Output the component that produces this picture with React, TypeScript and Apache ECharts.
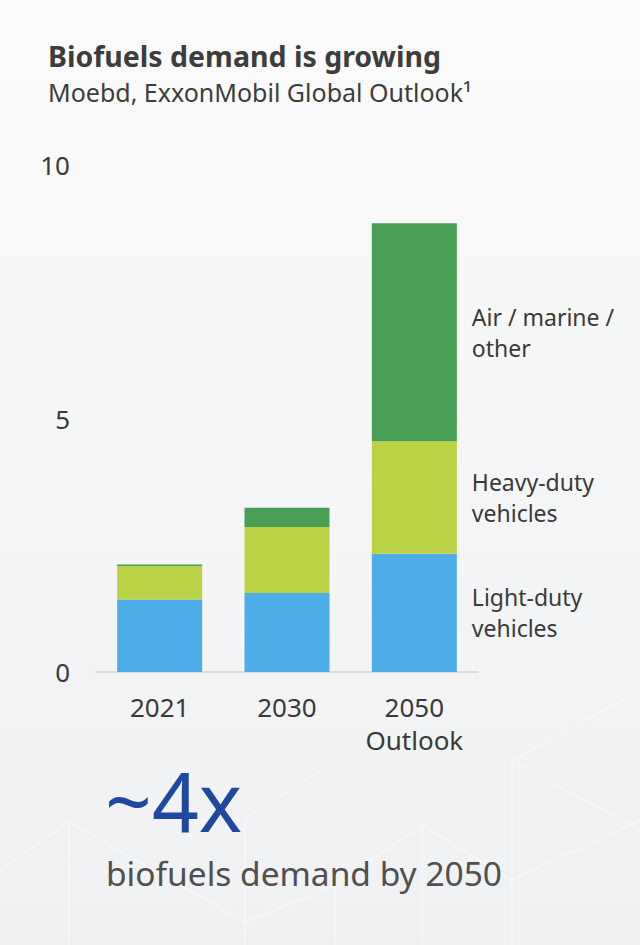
import React, { useEffect, useRef } from "react";
import * as echarts from "echarts";

const categories = ["2021", "2030", "2050\nOutlook"];
const seriesNames = ["Light-duty vehicles", "Heavy-duty vehicles", "Air / marine / other"];
const lightDuty = [1.43, 1.56, 2.33];
const heavyDuty = [0.66, 1.3, 2.22];
const airMarine = [0.03, 0.38, 4.3];
const sideLabels = ["Light-duty\nvehicles", "Heavy-duty\nvehicles", "Air / marine /\nother"];
const colors = ["#4EACE8", "#BAD344", "#4A9F57"];
const yTicks = [0, 5, 10];

const FONT = "'Noto Sans', 'Open Sans', sans-serif";

const bgLine = (points: number[][]) => ({
  type: "polyline",
  silent: true,
  z: -10,
  shape: { points },
  style: { stroke: "#ffffff", lineWidth: 1.2, fill: null, opacity: 0.55 },
});

export default function App() {
  const ref = useRef<HTMLDivElement>(null);
  useEffect(() => {
    if (!ref.current) return;
    const chart = echarts.init(ref.current, undefined, { renderer: "svg" });
    const seriesData = [lightDuty, heavyDuty, airMarine];
    const lastIdx = categories.length - 1;
    chart.setOption({
      animation: false,
      backgroundColor: {
        type: "linear",
        x: 0,
        y: 0,
        x2: 0,
        y2: 1,
        colorStops: [
          { offset: 0, color: "#fbfbfb" },
          { offset: 1, color: "#f0f1f3" },
        ],
      },
      textStyle: { fontFamily: FONT },
      grid: { left: 96, right: 162, top: 165, bottom: 273, containLabel: false },
      xAxis: {
        type: "category",
        data: categories,
        axisLine: { show: true, lineStyle: { color: "#d3d3d3", width: 1.5 } },
        axisTick: { show: false },
        axisLabel: {
          color: "#3a3a3a",
          fontSize: 26,
          fontFamily: FONT,
          margin: 18,
          lineHeight: 33,
        },
      },
      yAxis: {
        type: "value",
        min: yTicks[0],
        max: yTicks[yTicks.length - 1],
        interval: 5,
        splitLine: { show: false },
        axisLine: { show: false },
        axisTick: { show: false },
        axisLabel: { color: "#3a3a3a", fontSize: 26, fontFamily: FONT, margin: 26 },
      },
      series: seriesNames.map((name, s) => ({
        name,
        type: "bar",
        stack: "total",
        barWidth: 85,
        itemStyle: { color: colors[s] },
        data: seriesData[s].map((v, i) =>
          i === lastIdx
            ? {
                value: v,
                label: {
                  show: true,
                  position: "right",
                  distance: 15,
                  formatter: sideLabels[s],
                  color: "#3a3a3a",
                  fontSize: 23,
                  lineHeight: 31,
                  align: "left",
                  fontFamily: FONT,
                },
              }
            : v
        ),
      })),
      graphic: [
        bgLine([[0, 870], [69, 822], [245, 922]]),
        bgLine([[69, 822], [69, 945]]),
        bgLine([[245, 818], [335, 762]]),
        bgLine([[245, 818], [245, 945]]),
        bgLine([[335, 885], [335, 945]]),
        bgLine([[335, 885], [422, 825], [512, 880], [640, 820]]),
        bgLine([[422, 825], [422, 945]]),
        bgLine([[512, 761], [512, 945]]),
        bgLine([[512, 761], [640, 690]]),
        bgLine([[512, 761], [640, 830]]),
        bgLine([[245, 922], [335, 885]]),
        {
          type: "text",
          left: 48,
          top: 41,
          style: {
            text: "Biofuels demand is growing",
            fontSize: 28.5,
            fontWeight: "bold",
            fill: "#3d3d3d",
            fontFamily: FONT,
          },
        },
        {
          type: "text",
          left: 48,
          top: 79,
          style: {
            text: "Moebd, ExxonMobil Global Outlook¹",
            fontSize: 25,
            fill: "#3d3d3d",
            fontFamily: FONT,
          },
        },
        {
          type: "text",
          left: 105,
          top: 759,
          style: {
            text: "~4x",
            fontSize: 82,
            fill: "#1F48A0",
            fontFamily: FONT,
          },
        },
        {
          type: "text",
          left: 106,
          top: 856,
          style: {
            text: "biofuels demand by 2050",
            fontSize: 33.5,
            fill: "#505050",
            fontFamily: FONT,
          },
        },
      ],
    });
    return () => chart.dispose();
  }, []);
  return (
    <div
      ref={ref}
      style={{ position: "fixed", left: 0, top: 0, width: 640, height: 945 }}
    />
  );
}
